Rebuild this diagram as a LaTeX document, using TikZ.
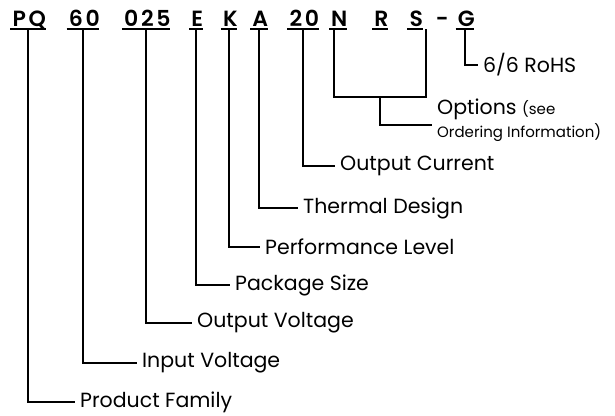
\documentclass[tikz,border=0pt]{standalone}
\usepackage{fontspec}
\setmainfont{Poppins}
\newfontfamily\codefont[LetterSpace=12]{Poppins SemiBold}
\newcommand{\cd}[1]{#1\kern-2.6pt}
\newcommand{\smalltxt}{\fontsize{15}{15}\selectfont}
\usetikzlibrary{positioning}

\begin{document}
\begin{tikzpicture}[
        x=1pt, y=-1pt,
        code/.style={font=\codefont\fontsize{22}{22}\selectfont, anchor=base, inner xsep=2pt, inner ysep=2.5pt, text depth=0pt},
        lbl/.style={font=\fontsize{20.5}{20.5}\selectfont, anchor=west, inner xsep=5pt, inner ysep=0pt},
        conn/.style={line width=2pt},
        uline/.style={line width=1.8pt}
    ]
    \useasboundingbox (0,0) rectangle (615,415);

    % Code
    \node[code] (pq) at (28,26) {\cd{PQ}};
    \node[code] (vin) at (83,26) {\cd{60}};
    \node[code] (vout) at (146,26) {\cd{025}};
    \node[code] (e) at (196,26) {\cd{E}};
    \node[code] (k) at (229,26) {\cd{K}};
    \node[code] (a) at (259,26) {\cd{A}};
    \node[code] (cur) at (303,26) {\cd{20}};
    \node[code] (n) at (338,26) {\cd{N}};
    \node[code] (r) at (380,26) {\cd{R}};
    \node[code] (s) at (415,26) {\cd{S}};
    \node[code] (dash) at (441,26) {\cd{-}};
    \node[code] (g) at (465,26) {\cd{G}};
    \foreach \c in {pq, vin, vout, e, k, a, cur, n, r, s, g}
        \draw[uline] (\c.south west) -- (\c.south east);

    % Labels
    \node[lbl] (family) at (75,402) {Product Family};
    \node[lbl] (input) at (137,363) {Input Voltage};
    \node[lbl] (output) at (192,323) {Output Voltage};
    \node[lbl] (package) at (230,285) {Package Size};
    \node[lbl] (perf) at (260,247) {Performance Level};
    \node[lbl] (thermal) at (298,208) {Thermal Design};
    \node[lbl] (current) at (335,166) {Output Current};
    \node[lbl, align=left] (options) at (432,120) {Options {\smalltxt(see}\\[2pt]{\smalltxt Ordering Information)}};
    \node[lbl] (rohs) at (478,65) {6/6 RoHS};
    \coordinate (optjoin) at (380,97);

    % Connectors
    \draw[conn] (pq.south) |- (family.west);
    \draw[conn] (vin.south) |- (input.west);
    \draw[conn] (vout.south) |- (output.west);
    \draw[conn] (e.south) |- (package.west);
    \draw[conn] (k.south) |- (perf.west);
    \draw[conn] (a.south) |- (thermal.west);
    \draw[conn] (cur.south) |- (current.west);
    \draw[conn] ([xshift=-4pt]n.south) |- (optjoin) -| ([xshift=11pt]s.south);
    \draw[conn] (optjoin) |- ([yshift=-5pt]options.west);
    \draw[conn] (g.south) |- (rohs.west);

\end{tikzpicture}
\end{document}
